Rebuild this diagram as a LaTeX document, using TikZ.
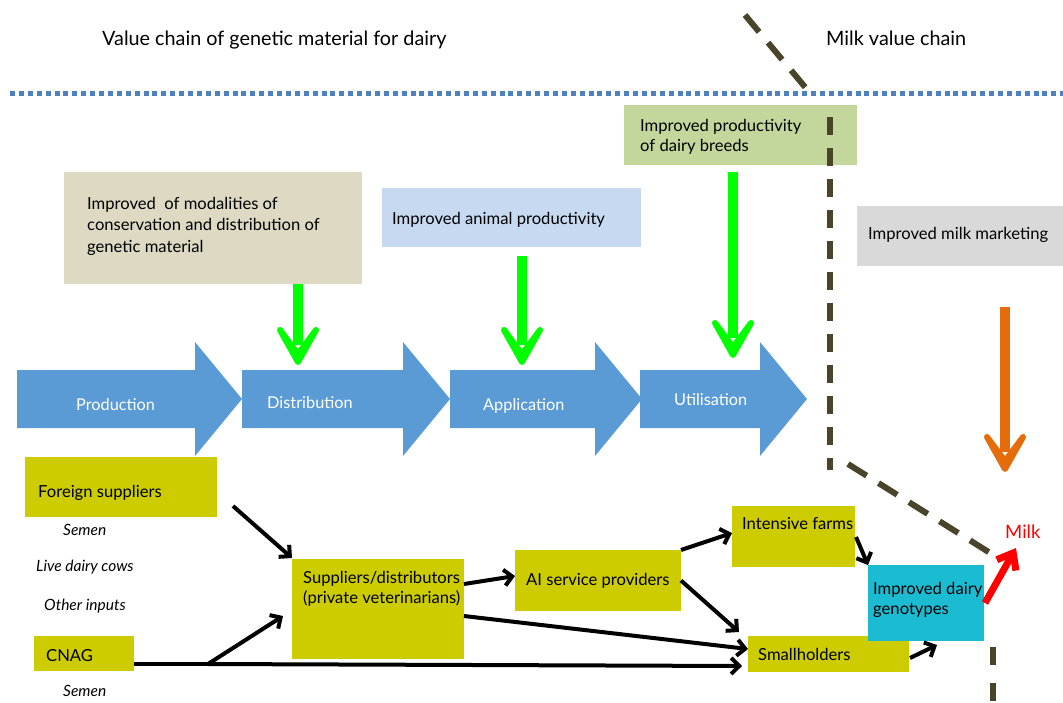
\documentclass[tikz,border=0pt]{standalone}
\usepackage{fontspec}
\setmainfont{Lato}
\usetikzlibrary{arrows.meta}

\definecolor{tanfill}{HTML}{DDD9C3}
\definecolor{skyfill}{HTML}{C6D9F1}
\definecolor{sagefill}{HTML}{C3D69B}
\definecolor{greyfill}{HTML}{D9D9D9}
\definecolor{olivefill}{HTML}{CCCC00}
\definecolor{tealfill}{HTML}{1BBBD2}
\definecolor{chainblue}{HTML}{5B9BD5}
\definecolor{dotblue}{HTML}{4F81BD}
\definecolor{darkolive}{HTML}{4A452A}
\definecolor{limegreen}{HTML}{00FF00}
\definecolor{burnt}{HTML}{E46C0A}

\newcommand{\boxfont}{\fontsize{16.6}{21.5}\selectfont}
\newcommand{\notefont}{\fontsize{15.5}{20}\selectfont\itshape}
\newcommand{\titlefont}{\fontsize{19.8}{22}\selectfont}
\newcommand{\stagefont}{\fontsize{16.3}{20}\selectfont}

\tikzset{
  panel/.style={anchor=north west, inner sep=0pt, outer sep=0pt},
  txt/.style={anchor=base west, inner sep=0pt, font=\boxfont, align=left},
  note/.style={anchor=base west, inner sep=0pt, font=\notefont},
  stagetxt/.style={anchor=base west, inner sep=0pt, font=\stagefont, text=white},
  flow/.style={line width=4pt, -{Straight Barb[length=8pt, width=16pt]}},
  boundary/.style={darkolive, line width=6pt, dash pattern=on 22pt off 14pt},
  % a wide block arrow of the process chain, #1 = its length
  pics/stage/.style={code={
    \fill[chainblue] (0,-29) -- (#1-47,-29) -- (#1-47,-57) -- (#1,0)
      -- (#1-47,57) -- (#1-47,29) -- (0,29) -- cycle;}},
  % a thick downward arrow with a rounded head, tip at the origin, #1 = length
  pics/impact/.style={code={
    \fill (-5,-#1) rectangle (5,-20);
    \filldraw[line width=6pt, line join=round]
      (0,-3) -- (18,-35) -- (0,-11) -- (-18,-35) -- cycle;}},
}

\begin{document}
\begin{tikzpicture}[x=1pt, y=-1pt]
\useasboundingbox (0,0) rectangle (1063,702);

% headings and the dotted divider
\node[anchor=base west, inner sep=0pt, font=\titlefont] (t1) at (102,45) {Value chain of genetic material for dairy};
\node[anchor=base west, inner sep=0pt, font=\titlefont] (t2) at (826,45) {Milk value chain};
\coordinate (divL) at (10,93);
\coordinate (divR) at (1063,93);
\draw[dotblue, line width=5pt, dash pattern=on 5pt off 3.9pt] (divL) -- (divR);

% improvement boxes
\node[panel, fill=tanfill, minimum width=298pt, minimum height=112pt] (cons) at (64,172) {};
\node[txt] at (87,252) {Improved~ of modalities of\\conservation and distribution of\\genetic material};
\node[panel, fill=skyfill, minimum width=259pt, minimum height=59pt] (anim) at (382,188) {};
\node[txt] at (392,224) {Improved animal productivity};
\node[panel, fill=sagefill, minimum width=233pt, minimum height=60pt] (breed) at (624,105) {};
\node[txt] at (640,151) {Improved productivity\\[-1.5pt]of dairy breeds};
\node[panel, fill=greyfill, minimum width=206pt, minimum height=60pt] (mkt) at (857,206) {};
\node[txt] at (868,239) {Improved milk marketing};

% stage arrows
\pic at (17,399) {stage=225};
\pic at (242,399) {stage=208};
\pic at (450,399) {stage=192};
\pic at (640,399) {stage=167};
\node[stagetxt] at (76,410) {Production};
\node[stagetxt] at (267,408) {Distribution};
\node[stagetxt] at (483,410) {Application};
\node[stagetxt] at (674,405) {Utilisation};

% impact arrows pointing down onto the chain
\pic[limegreen] at (298,365) {impact=81};
\pic[limegreen] at (522,365) {impact=109};
\pic[limegreen] at (733,358) {impact=186};
\pic[burnt] at (1005,472) {impact=165};

% actors
\node[panel, fill=olivefill, minimum width=192pt, minimum height=60pt] (fs) at (25,457) {};
\node[txt] at (38,497) {Foreign suppliers};
\node[note] at (63,535) {Semen};
\node[note] at (36,571) {Live dairy cows};
\node[note] at (44,610) {Other inputs};
\node[panel, fill=olivefill, minimum width=100pt, minimum height=35pt] (cnag) at (34,636) {};
\node[txt] at (46,661) {CNAG};
\node[note] at (63,696) {Semen};

\node[panel, fill=olivefill, minimum width=172pt, minimum height=100pt] (sd) at (292,559) {};
\node[txt] at (303,603) {Suppliers/distributors\\[-1.5pt](private veterinarians)};
\node[panel, fill=olivefill, minimum width=166pt, minimum height=61pt] (ai) at (515,550) {};
\node[txt] at (526,585) {AI service providers};
\node[panel, fill=olivefill, minimum width=123pt, minimum height=61pt] (inf) at (732,506) {};
\node[txt] at (742,529) {Intensive farms};
\node[panel, fill=olivefill, minimum width=161pt, minimum height=36pt] (sh) at (748,636) {};
\node[txt] at (758,660) {Smallholders};
\node[panel, fill=tealfill, minimum width=116pt, minimum height=76pt] (idg) at (868,565) {};
\node[txt] at (873,614) {Improved dairy\\[-1.5pt]genotypes};

% flows between actors
\coordinate (fsOut) at (233,506);
\coordinate (sdIn1) at (292,558);
\coordinate (branch) at (208,664);
\coordinate (sdIn2) at (283,616);
\coordinate (cnagEnd) at (742,666);
\draw[flow] (fsOut) -- (sdIn1);
\draw[line width=4pt] (cnag.east |- branch) -- (branch);
\draw[flow] (branch) -- (cnagEnd);
\draw[flow] (branch) -- (sdIn2);
\draw[flow] (sd.east |- 0,584) -- (ai.west |- 0,576);
\draw[flow] (sd.east |- 0,616) -- (sh.west |- 0,649);
\draw[flow] (ai.north east) -- (inf.west |- 0,533);
\draw[flow] (ai.east) -- (739,632);
\draw[flow] (856,537) -- (idg.north west |- 0,565);
\draw[flow] (910,658) -- (937,645);

% milk output
\node[anchor=base west, inner sep=0pt, font=\fontsize{18.5}{20}\selectfont, text=red] (milk) at (1005,538) {Milk};
\draw[red, line width=7pt, -{Straight Barb[length=14pt, width=22pt]}] (985,603) -- (1016,548);

% boundary between the two chains
\draw[boundary] (745,15) -- (810,93);
\draw[boundary, dash pattern=on 18pt off 13pt] (830,117) -- (830,470);
\draw[boundary] (848,464) -- (995,556);
\draw[boundary, dash pattern=on 18pt off 18pt] (993,647) -- (993,702);
\end{tikzpicture}
\end{document}
